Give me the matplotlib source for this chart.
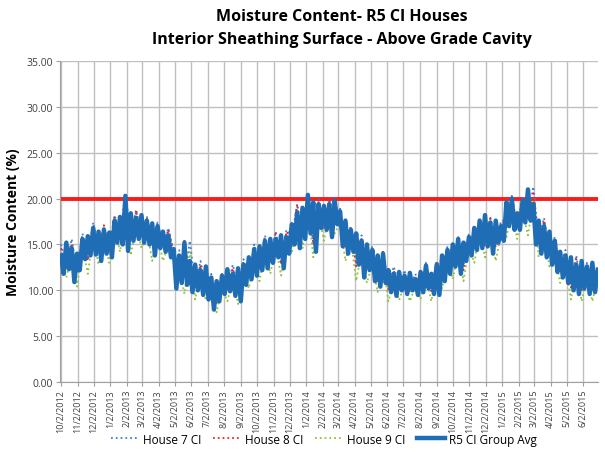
import matplotlib
matplotlib.use("Agg")
import matplotlib.pyplot as plt
import matplotlib.dates as mdates
import numpy as np
import pandas as pd

plt.rcParams['font.family'] = ['Open Sans', 'DejaVu Sans']

# group average, read every 5 days from 10/2/2012 (one row per month)
avg_mc = [
    13.8, 11.8, 15.2, 12.3, 14.6, 10.9, 14.0,   # Oct 2012
    12.2, 15.6, 13.4, 15.9, 13.8, 16.8,
    13.9, 16.4, 13.2, 16.6, 14.0, 16.3,
    13.6, 17.6, 15.2, 18.0, 15.0, 20.3,         # Jan 2013
    14.3, 18.4, 15.4, 17.9, 15.6, 18.2,
    15.2, 17.6, 15.0, 17.3, 13.8, 17.0,
    14.6, 16.4, 14.2, 16.0, 13.6, 14.5,
    10.2, 13.8, 10.8, 15.2, 10.6, 13.2,
    9.8, 12.8, 10.0, 12.2, 9.5, 12.6,
    9.0, 11.4, 7.9, 11.0, 8.8, 11.6,
    9.6, 12.3, 9.9, 11.8, 9.4, 12.4,
    8.8, 12.8, 10.6, 13.6, 11.2, 14.5,
    11.6, 14.8, 12.2, 15.4, 12.4, 15.6, 13.0,   # Oct 2013
    15.6, 13.6, 16.0, 12.4, 15.8, 14.0,
    17.2, 15.0, 18.5, 14.6, 19.0, 15.6,
    20.4, 16.2, 19.6, 14.2, 19.4, 16.8,         # Jan 2014
    19.2, 16.6, 19.4, 15.8, 19.8, 17.2,
    18.6, 14.8, 17.6, 14.0, 16.6, 14.2,
    16.2, 12.8, 15.4, 11.4, 15.0, 12.2,
    14.4, 11.0, 13.8, 10.4, 14.0, 10.8,
    12.2, 9.8, 11.8, 9.4, 12.0, 10.0,
    11.6, 9.6, 11.9, 10.0, 11.2, 9.5,
    12.0, 9.8, 12.7, 10.2, 11.8, 9.6,
    12.8, 9.5, 13.8, 11.0, 14.4, 11.8,
    15.0, 12.6, 15.6, 11.8, 15.2, 13.2, 15.8,   # Oct 2014
    13.8, 16.8, 14.4, 17.6, 14.6, 18.2,
    14.8, 17.4, 14.0, 17.6, 15.2, 17.0,
    15.4, 19.6, 17.0, 20.0, 16.6, 18.4,         # Jan 2015
    16.6, 19.8, 17.4, 21.0, 17.6, 19.4,
    15.0, 17.6, 14.0, 17.0, 13.6, 16.4,
    12.8, 15.4, 12.0, 14.2, 11.4, 13.8,
    10.8, 13.6, 10.0, 12.8, 9.6, 13.2,
    10.2, 12.6, 9.6, 13.0, 9.8, 12.2,
]

# individual houses, read every 10 days from 10/2/2012
house7 = [
    15.0, 12.8, 15.6, 12.0, 16.2, 13.6, 17.4, 14.6, 17.0, 14.8,
    18.2, 15.8, 20.6, 16.0, 18.6, 16.2, 18.0, 15.6, 17.4, 15.0,
    16.8, 14.2, 14.4, 11.4, 15.4, 10.6, 13.2, 10.2, 11.8, 9.0,
    11.8, 10.2, 12.8, 10.4, 13.4, 11.6, 15.0, 12.8, 16.0, 13.4,
    16.4, 13.0, 16.6, 15.8, 19.2, 16.2, 20.7, 15.2, 19.9, 17.0,
    20.0, 17.6, 18.9, 14.8, 17.0, 13.0, 16.0, 12.8, 14.8, 11.2,
    14.4, 10.4, 12.6, 10.4, 12.2, 10.2, 11.8, 10.6, 13.0, 10.2,
    13.2, 11.8, 14.8, 12.8, 15.8, 12.6, 16.2, 14.6, 17.8, 15.2,
    17.8, 15.0, 17.6, 17.6, 20.3, 17.0, 20.2, 18.0, 21.3, 15.4,
    17.9, 14.2, 15.8, 12.6, 14.4, 10.6, 13.8, 10.2, 13.0, 10.2,
    12.8,
]
house8 = [
    14.6, 12.4, 15.0, 11.8, 15.8, 13.2, 17.0, 14.2, 17.1, 14.4,
    18.0, 15.6, 20.0, 15.8, 18.8, 15.9, 17.8, 15.4, 17.2, 14.8,
    16.6, 14.0, 11.0, 15.6, 11.2, 10.4, 12.8, 9.9, 11.4, 8.6,
    11.4, 9.9, 12.4, 10.0, 13.0, 11.3, 14.6, 12.5, 15.6, 13.1,
    16.2, 12.8, 16.4, 15.5, 19.4, 15.9, 20.3, 15.0, 19.8, 16.8,
    20.1, 17.3, 18.7, 14.6, 16.8, 12.6, 15.6, 12.4, 14.4, 11.0,
    14.2, 10.0, 12.2, 10.1, 11.8, 9.8, 11.5, 10.3, 12.6, 9.9,
    13.0, 11.4, 14.5, 12.5, 15.6, 12.2, 15.9, 14.4, 17.4, 14.9,
    17.9, 14.7, 17.4, 17.3, 20.1, 16.8, 20.0, 17.7, 20.6, 15.1,
    17.6, 14.0, 15.5, 12.3, 14.1, 10.3, 13.4, 9.9, 12.7, 9.9,
    12.4,
]
house9 = [
    13.4, 11.4, 14.0, 10.4, 15.0, 11.8, 16.0, 12.8, 15.6, 13.0,
    17.0, 14.2, 19.0, 13.8, 17.2, 14.6, 16.6, 13.2, 16.2, 13.2,
    15.0, 13.4, 12.6, 9.6, 14.2, 9.0, 11.6, 8.9, 10.4, 7.6,
    10.4, 8.8, 11.2, 8.5, 12.0, 10.2, 13.6, 11.0, 14.4, 11.8,
    14.8, 11.6, 15.2, 14.0, 17.8, 14.6, 19.0, 13.6, 18.4, 15.4,
    18.6, 16.2, 17.4, 13.2, 15.6, 11.0, 14.2, 10.8, 13.0, 9.8,
    13.0, 8.8, 11.0, 8.9, 10.8, 8.8, 10.4, 9.0, 11.6, 8.8,
    12.0, 10.2, 13.4, 11.2, 14.2, 11.0, 14.8, 13.0, 16.4, 13.6,
    16.4, 13.2, 16.2, 15.8, 18.8, 15.6, 18.6, 16.0, 19.8, 13.6,
    16.4, 12.6, 14.2, 10.8, 13.0, 9.0, 12.4, 8.8, 11.6, 8.8,
    11.4,
]

limit_mc = 20.0
start = pd.Timestamp('2012-10-02')
avg_dates = pd.date_range(start, periods=len(avg_mc), freq='5D')
house_dates = pd.date_range(start, periods=len(house7), freq='10D')

fig, ax = plt.subplots(figsize=(6.05, 4.56), dpi=100)
fig.subplots_adjust(left=0.099, right=0.988, top=0.864, bottom=0.160)

ax.plot(house_dates, house7, ':', color='#3f7fd4', lw=1.3, label='House 7 CI', zorder=3)
ax.plot(house_dates, house8, ':', color='#e8262a', lw=1.3, label='House 8 CI', zorder=3)
ax.plot(house_dates, house9, ':', color='#8fc33a', lw=1.3, label='House 9 CI', zorder=3)
ax.plot(avg_dates, avg_mc, '-', color='#1f6db5', lw=3.2, label='R5 CI Group Avg', zorder=4)
ax.axhline(limit_mc, color='#ff1a1a', lw=2.8, zorder=2)

ax.set_ylim(0, 35)
ax.set_yticks(np.arange(0, 36, 5))
ax.set_yticklabels([f'{v:.2f}' for v in np.arange(0, 36, 5)], fontsize=7.5, color='#404040')
ax.set_xlim(start - pd.Timedelta(days=2), start + pd.Timedelta(days=1000))

ax.xaxis.set_major_locator(mdates.MonthLocator(bymonthday=2))
ax.xaxis.set_major_formatter(plt.FuncFormatter(
    lambda x, pos: '{d.month}/{d.day}/{d.year}'.format(d=mdates.num2date(x))))
plt.setp(ax.get_xticklabels(), rotation=90, fontsize=6.5, color='#404040')

ax.grid(True, color='#c0c0c0', lw=1.0, zorder=0)
ax.set_axisbelow(True)
for side in ['top', 'right']:
    ax.spines[side].set_visible(False)
for side in ['left', 'bottom']:
    ax.spines[side].set_color('#a0a0a0')
ax.tick_params(axis='x', length=3, color='#a0a0a0', pad=2)
ax.tick_params(axis='y', length=3, color='#a0a0a0', pad=2)

ax.set_ylabel('Moisture Content (%)', fontsize=10, fontweight='bold')
ax.yaxis.set_label_coords(-0.075, 0.5)
fig.text(0.565, 0.963, 'Moisture Content- R5 CI Houses', ha='center', va='center',
         fontsize=11.5, fontweight='bold')
fig.text(0.565, 0.912, 'Interior Sheathing Surface - Above Grade Cavity', ha='center',
         va='center', fontsize=11.5, fontweight='bold')

fig.legend(loc='center', bbox_to_anchor=(0.535, 0.035), ncol=4, frameon=False,
           fontsize=8.5, handlelength=2.4, columnspacing=1.0, handletextpad=0.3)

fig.savefig('out.png', dpi=100)
